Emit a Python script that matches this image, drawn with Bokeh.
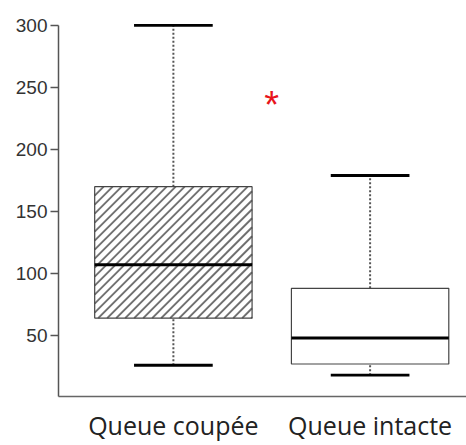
import numpy as np
from bokeh.plotting import figure
from bokeh.models import FixedTicker, Range1d
from bokeh.embed import file_html
from bokeh.resources import INLINE
from bokeh.core.properties import value

groups = ["Queue coupée", "Queue intacte"]
positions = [1, 2]
lower = [26, 18]
q1 = [64, 27]
median = [107, 48]
q3 = [170, 88]
upper = [300, 179]
hatched = [True, False]
star_x = [1.5]
star_y = [241]
y_ticks = [50, 100, 150, 200, 250, 300]

box_w = 0.8
cap_half = 0.2

X0, X1 = 0.416, 2.49
Y0, Y1 = 0.8, 308
W, H = 466, 445
BL, BR, BT, BB = 58, 0, 15, 49
FW, FH = W - BL - BR, H - BT - BB
SX = FW / (X1 - X0)   # px per x unit
SY = FH / (Y1 - Y0)   # px per y unit
HATCH_PERIOD = 9      # px, horizontal distance between hatch lines


def hatch_lines(xc, bottom, top, width):
    """45-degree '/' hatch lines clipped to a box, returned in data units."""
    L = (xc - width / 2 - X0) * SX
    R = (xc + width / 2 - X0) * SX
    B = (bottom - Y0) * SY
    T = (top - Y0) * SY
    xs0, ys0, xs1, ys1 = [], [], [], []
    for c in np.arange(L - T, R - B, HATCH_PERIOD):
        v0 = max(B, L - c)
        v1 = min(T, R - c)
        if v1 <= v0:
            continue
        xs0.append(X0 + (v0 + c) / SX)
        ys0.append(Y0 + v0 / SY)
        xs1.append(X0 + (v1 + c) / SX)
        ys1.append(Y0 + v1 / SY)
    return xs0, ys0, xs1, ys1


p = figure(width=W, height=H, output_backend="svg", toolbar_location=None,
           x_range=Range1d(X0, X1), y_range=Range1d(Y0, Y1),
           min_border_left=BL, min_border_right=BR, min_border_top=BT, min_border_bottom=BB)
p.outline_line_color = None
p.xgrid.visible = False
p.ygrid.visible = False
p.background_fill_color = "white"
p.border_fill_color = "white"

# whiskers
p.segment(x0=positions, y0=q3, x1=positions, y1=upper, line_color="#555555",
          line_width=2, line_dash="2 2")
p.segment(x0=positions, y0=lower, x1=positions, y1=q1, line_color="#555555",
          line_width=2, line_dash="2 2")
# caps
p.segment(x0=[x - cap_half for x in positions], y0=upper, x1=[x + cap_half for x in positions],
          y1=upper, line_color="black", line_width=2.8)
p.segment(x0=[x - cap_half for x in positions], y0=lower, x1=[x + cap_half for x in positions],
          y1=lower, line_color="black", line_width=2.8)

# box fills
p.vbar(x=positions, bottom=q1, top=q3, width=box_w, fill_color="white", line_color=None)

# hatching
for i in range(len(groups)):
    if hatched[i]:
        hx0, hy0, hx1, hy1 = hatch_lines(positions[i], q1[i], q3[i], box_w)
        p.segment(x0=hx0, y0=hy0, x1=hx1, y1=hy1, line_color="#707070", line_width=2)

# box outlines
p.vbar(x=positions, bottom=q1, top=q3, width=box_w, fill_color=None,
       line_color="#444444", line_width=1.2)

# medians
p.segment(x0=[x - box_w / 2 for x in positions], y0=median,
          x1=[x + box_w / 2 for x in positions], y1=median,
          line_color="black", line_width=3)

# significance star
p.text(x=star_x, y=star_y, text=["*"], text_color="#e8141b", text_font_size="38px",
       text_align="center", text_baseline="middle", text_font=value("Liberation Sans"),
       y_offset=6)

# axes
p.yaxis.ticker = FixedTicker(ticks=y_ticks)
p.yaxis.bounds = (Y0, 300)
p.yaxis.axis_line_color = "#555555"
p.yaxis.axis_line_width = 1.5
p.yaxis.major_tick_line_color = "#555555"
p.yaxis.major_tick_line_width = 1.5
p.yaxis.major_tick_out = 8
p.yaxis.major_tick_in = 0
p.yaxis.minor_tick_line_color = None
p.yaxis.major_label_text_font = "Liberation Sans"
p.yaxis.major_label_text_font_size = "19px"
p.yaxis.major_label_text_color = "#333333"
p.yaxis.major_label_standoff = 3

p.xaxis.ticker = FixedTicker(ticks=positions)
p.xaxis.major_label_overrides = {pos: g for pos, g in zip(positions, groups)}
p.xaxis.axis_line_color = "#666666"
p.xaxis.axis_line_width = 1.5
p.xaxis.major_tick_line_color = None
p.xaxis.minor_tick_line_color = None
p.xaxis.major_label_text_font = "Open Sans"
p.xaxis.major_label_text_font_size = "25px"
p.xaxis.major_label_text_color = "#222222"
p.xaxis.major_label_standoff = 5

open("out.html", "w").write(file_html(p, INLINE))
